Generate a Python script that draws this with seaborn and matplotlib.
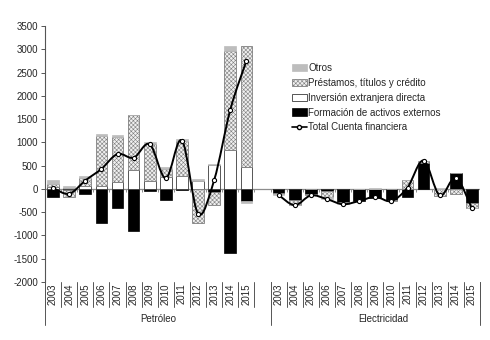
import numpy as np
import pandas as pd
import matplotlib
matplotlib.use("Agg")
import matplotlib.pyplot as plt
from matplotlib.path import Path
from matplotlib.patches import PathPatch, Patch
from matplotlib.lines import Line2D
import matplotlib.transforms as mtransforms
import seaborn as sns

# ---- data (millones de US$) ----
years = ["2003", "2004", "2005", "2006", "2007", "2008", "2009",
         "2010", "2011", "2012", "2013", "2014", "2015"]
groups = ["Petróleo", "Electricidad"]

formacion_pet = [-180, -20, -100, -740, -400, -910, -40, -230, -30, 0, -70, -1370, -250]
ied_pet = [50, 20, 70, 60, 150, 400, 180, 250, 270, 180, 510, 830, 480]
prestamos_pet = [60, -155, 160, 1070, 960, 1180, 780, 170, 760, -740, -270, 2140, 2580]
otros_pet = [90, 50, 50, 40, 40, 0, 40, 40, 40, 30, 20, 100, -60]

formacion_ele = [-90, -230, -110, -40, -280, -260, -200, -240, -170, 560, 0, 340, -300]
ied_ele = [0, 0, 0, 0, 0, 0, 0, 0, 0, 0, 0, 0, 0]
prestamos_ele = [-30, -110, -30, -130, -20, 0, 0, -20, 200, 50, -150, -100, -100]
otros_ele = [-10, -10, 0, -50, -30, 0, 30, 0, 0, 0, 10, 0, -20]

series_names = ["Formación de activos externos", "Inversión extranjera directa",
                "Préstamos, títulos y crédito", "Otros"]
line_name = "Total Cuenta financiera"

sns.set_theme(style="white")
plt.rcParams["font.family"] = ["Liberation Sans", "DejaVu Sans"]
plt.rcParams["hatch.linewidth"] = 0.4

# long table: one row per group/year/component
rows = []
for g, comps in zip(groups, [
        [formacion_pet, ied_pet, prestamos_pet, otros_pet],
        [formacion_ele, ied_ele, prestamos_ele, otros_ele]]):
    for name, vals in zip(series_names, comps):
        for y, v in zip(years, vals):
            rows.append({"grupo": g, "anio": y, "serie": name, "valor": v})
df = pd.DataFrame(rows)

# category slots: 13 years, one blank slot, 13 years
n = len(years)
slot = {("Petróleo", y): i for i, y in enumerate(years)}
slot.update({("Electricidad", y): n + 1 + i for i, y in enumerate(years)})
df["x"] = [slot[(g, y)] for g, y in zip(df["grupo"], df["anio"])]

styles = {
    "Formación de activos externos": dict(facecolor="#000000", edgecolor="#000000", linewidth=0.5),
    "Inversión extranjera directa": dict(facecolor="#ffffff", edgecolor="#3a3a3a", linewidth=0.6),
    "Préstamos, títulos y crédito": dict(facecolor="#f0f0f0", edgecolor="#808080", linewidth=0.6, hatch="xxxxxxxx"),
    "Otros": dict(facecolor="#bdbdbd", edgecolor="#bdbdbd", linewidth=0.5),
}

fig = plt.figure(figsize=(4.9, 3.4), dpi=100)
ax = fig.add_axes([45 / 490, 1 - 282 / 340, 435 / 490, 256 / 340])

width = 0.72
xs = np.array(sorted(df["x"].unique()))
pos_bottom = pd.Series(0.0, index=xs)
neg_bottom = pd.Series(0.0, index=xs)
for name in series_names:
    sub = df[df["serie"] == name].set_index("x")["valor"].reindex(xs).astype(float)
    bottoms = np.where(sub >= 0, pos_bottom, neg_bottom)
    ax.bar(xs, sub.values, bottom=bottoms, width=width, zorder=2, **styles[name])
    pos_bottom += sub.clip(lower=0)
    neg_bottom += sub.clip(upper=0)

# total line for each group, smoothed with cubic Bezier segments
total = df.groupby(["grupo", "x"])["valor"].sum().reset_index()


def smooth_path(x, y):
    x = np.asarray(x, float)
    y = np.asarray(y, float)
    pts = np.column_stack([x, y])
    verts = [pts[0]]
    codes = [Path.MOVETO]
    m = len(pts)
    for i in range(m - 1):
        p0 = pts[i - 1] if i > 0 else pts[i]
        p1 = pts[i]
        p2 = pts[i + 1]
        p3 = pts[i + 2] if i + 2 < m else pts[i + 1]
        c1 = p1 + (p2 - p0) / 6.0
        c2 = p2 - (p3 - p1) / 6.0
        verts += [c1, c2, p2]
        codes += [Path.CURVE4] * 3
    return Path(verts, codes)


for g in groups:
    t = total[total["grupo"] == g].sort_values("x")
    ax.add_patch(PathPatch(smooth_path(t["x"], t["valor"]), facecolor="none",
                           edgecolor="black", linewidth=1.4, zorder=3))
    sns.scatterplot(x=t["x"], y=t["valor"], ax=ax, marker="o", s=9,
                    facecolor="white", edgecolor="black", linewidth=0.8,
                    zorder=4, legend=False)

# axes
ax.set_xlim(-0.5, 2 * n + 0.5)
ax.set_ylim(-2000, 3500)
ax.set_yticks(np.arange(-2000, 3501, 500))
ax.set_yticklabels([str(v) for v in range(-2000, 3501, 500)], fontsize=7)
ax.set_xticks([])
ax.set_xlabel("")
ax.set_ylabel("")
for s in ["top", "right", "bottom"]:
    ax.spines[s].set_visible(False)
ax.spines["left"].set_color("#555555")
ax.spines["left"].set_linewidth(0.8)
ax.tick_params(axis="y", direction="out", length=3, width=0.7, color="#555555",
               pad=2, left=True)

# zero line with small category ticks
ax.axhline(0, color="#8c8c8c", linewidth=0.9, zorder=1)
bounds = np.arange(-0.5, 2 * n + 1, 1.0)
ax.vlines(bounds, -60, 0, color="#8c8c8c", linewidth=0.7, zorder=1)

# category labels below the plot
trans = mtransforms.blended_transform_factory(ax.transData, ax.transAxes)
label_bottom = -(307 - 282) / 256
group_bottom = -(325 - 282) / 256
for (g, y), i in slot.items():
    ax.text(i, -(294 - 282) / 256, y, transform=trans, rotation=90,
            ha="center", va="center", fontsize=7)
for g in groups:
    idx = [slot[(g, y)] for y in years]
    lo, hi = min(idx) - 0.5, max(idx) + 0.5
    for b in np.arange(lo, hi + 0.5, 1.0):
        ax.plot([b, b], [0, label_bottom], transform=trans, color="#555555",
                linewidth=0.7, clip_on=False)
    ax.text((min(idx) + max(idx) + 1) / 2, -(319 - 282) / 256, g, transform=trans,
            ha="center", va="center", fontsize=7)
for b in [-0.5, n + 0.5, 2 * n + 0.5]:
    ax.plot([b, b], [0, group_bottom], transform=trans, color="#555555",
            linewidth=0.7, clip_on=False)

# legend
handles = [
    Patch(**styles["Otros"], label="Otros"),
    Patch(**styles["Préstamos, títulos y crédito"], label="Préstamos, títulos y crédito"),
    Patch(**styles["Inversión extranjera directa"], label="Inversión extranjera directa"),
    Patch(**styles["Formación de activos externos"], label="Formación de activos externos"),
    Line2D([], [], color="black", linewidth=1.2, marker="o", markersize=3,
           markerfacecolor="white", markeredgecolor="black", label=line_name),
]
ax.legend(handles=handles, loc="upper left", bbox_to_anchor=((292 - 45) / 435, (282 - 63) / 256),
          frameon=False, fontsize=7, handlelength=1.5, handleheight=0.8,
          handletextpad=0.15, labelspacing=0.5, borderpad=0, borderaxespad=0)

fig.savefig("out.png", dpi=100)
